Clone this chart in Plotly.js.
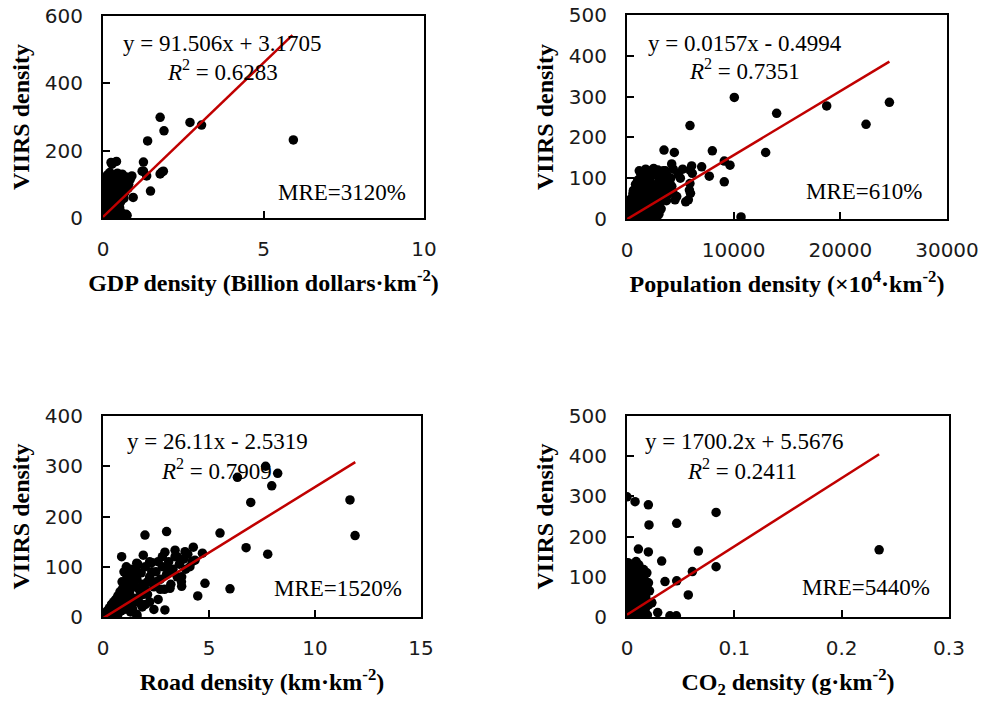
<!DOCTYPE html>
<html>
<head>
<meta charset="utf-8">
<script src="https://cdn.plot.ly/plotly-3.0.1.min.js"></script>
<style>html,body{margin:0;padding:0;background:#fff;}#chart{width:990px;height:706px;}</style>
</head>
<body>
<div id="chart"></div>
<script>
// ---------- data ----------
const gdpPoints = [
 [0.02,3],[0.04,12],[0.03,25],[0.05,40],[0.04,58],[0.06,72],[0.05,88],[0.07,100],[0.06,112],[0.08,120],
 [0.1,6],[0.12,18],[0.11,33],[0.13,47],[0.12,63],[0.14,79],[0.13,93],[0.15,106],[0.16,118],[0.14,128],
 [0.2,9],[0.22,22],[0.19,38],[0.21,52],[0.23,68],[0.2,84],[0.24,97],[0.22,110],[0.25,122],[0.21,135],
 [0.3,14],[0.32,28],[0.29,44],[0.31,60],[0.33,74],[0.3,88],[0.34,102],[0.32,115],[0.35,128],[0.28,160],
 [0.4,20],[0.42,36],[0.39,55],[0.41,70],[0.44,84],[0.4,98],[0.43,110],[0.38,124],[0.45,133],[0.42,168],
 [0.5,12],[0.52,30],[0.55,48],[0.5,66],[0.53,80],[0.56,95],[0.51,108],[0.57,120],[0.6,130],
 [0.62,10],[0.65,58],[0.68,76],[0.64,92],[0.7,110],[0.72,122],[0.6,14],[0.75,8],[0.8,100],[0.85,115],
 [0.9,125],[0.78,88],[0.55,5],[0.3,1],[0.1,0.5],
 [0.94,61],[0.72,11],[1.48,80],[1.26,139],[1.22,139],[1.36,125],[1.83,136],[1.78,131],[1.88,139],
 [1.26,166],[1.39,229],[1.78,299],[1.9,259],[2.71,284],[3.07,276],[5.93,232],[0.25,165]
];
const popPoints = [
 [100,2],[200,10],[150,25],[300,40],[250,8],[500,5],[600,20],[450,35],[700,50],[550,62],
 [900,15],[1000,30],[800,45],[1100,60],[950,75],[1200,90],[1300,105],[1150,118],
 [1500,10],[1600,28],[1400,45],[1700,58],[1550,72],[1800,85],[1650,98],[1900,110],[1750,122],
 [2000,20],[2100,38],[2200,52],[2050,66],[2300,80],[2150,95],[2400,108],[2250,118],[2500,124],
 [2600,30],[2700,45],[2800,60],[2650,75],[2900,88],[3000,100],[2750,112],
 [3100,40],[3200,55],[3300,70],[3400,85],[3500,95],[3300,110],[3600,118],
 [3800,60],[3900,75],[4000,90],[3700,45],[4200,80],[4100,100],[4300,65],
 [2800,5],[1800,3],[3000,12],[2400,8],[1200,6],[400,50],[200,45],[0,40],[100,30],
 [600,70],[800,85],[1000,95],[1300,80],[1500,65],[1000,50],[1800,40],[2200,30],[2600,15],[3200,25],
 [3500,55],[2500,50],[2000,75],[1400,20],[700,30],[3800,105],[2900,120],[1500,110],[3100,80],
 [3400,118],[4190,135],[4340,122],[5220,122],[6060,130],[5906,120],[6120,112],[5900,87],[5850,71],
 [5950,63],[5750,47],[4660,55],[4500,47],[4438,163],[3470,169],[5906,229],[7000,128],[7716,105],
 [8000,167],[9120,142],[9656,132],[9120,91],[10060,298],[10690,5],[2750,6],[13000,163],[14030,259],
 [18720,277],[22410,232],[24600,286],[5500,42],[5000,100],[4800,110]
];
const roadPoints = [
 [0.05,2],[0.1,8],[0.15,3],[0.2,12],[0.25,5],[0.3,18],[0.35,10],[0.4,25],[0.45,15],[0.5,30],
 [0.55,8],[0.6,35],[0.65,20],[0.7,42],[0.75,28],[0.8,50],[0.85,12],[0.9,55],[0.95,35],[1.0,62],
 [1.05,45],[1.1,70],[1.15,25],[1.2,78],[1.25,50],[1.3,58],[1.35,85],[1.4,38],[1.45,68],[1.5,95],
 [1.55,30],[1.6,75],[1.65,105],[1.7,55],[1.8,88],[1.85,20],[1.9,65],[2.0,100],[2.1,45],[2.2,80],
 [2.3,108],[2.4,60],[2.5,90],[2.6,35],[2.7,75],[2.8,100],[2.9,55],[3.0,85],[3.1,110],[3.2,65],
 [3.3,95],[3.4,120],[3.5,80],[3.6,105],[3.7,70],[3.8,115],[3.9,95],[4.0,125],[4.1,100],[4.2,110],
 [0.6,10],[1.0,15],[1.3,10],[1.6,5],[0.9,25],[1.2,40],[0.4,5],[0.7,15],[2.0,25],[2.4,15],
 [1.1,100],[1.5,60],[2.2,30],
 [0.5,20],[0.8,30],[1.0,40],[1.2,60],[1.4,75],[1.6,90],[1.8,60],[1.9,45],[2.1,70],[2.3,90],
 [2.5,70],[2.7,55],[1.3,30],[1.7,40],[0.9,70],[1.1,85],[1.5,80],[2.0,55],[2.6,110],[3.0,100],
 [1.4,15],[1.8,25],[0.3,3],[0.7,5],[1.2,20],[2.2,110],[2.8,120],[3.2,90],[3.5,120],[1.3,95],
 [0.88,120],[1.9,123],[1.98,163],[3.0,170],[2.92,129],[3.4,133],[3.87,130],[4.26,139],[4.69,127],
 [4.34,113],[3.71,80],[3.71,61],[3.16,57],[2.92,14],[1.6,1],[0.99,90],[1.59,107],[4.81,67],
 [4.47,42],[5.52,167],[5.99,56],[6.75,138],[7.77,125],[6.34,278],[7.67,300],[8.24,286],
 [7.96,261],[6.97,228],[11.65,233],[11.89,162]
];
const co2Points = [
 [0,5],[0.001,20],[0.0005,40],[0.002,60],[0.001,80],[0.0015,100],[0.002,120],[0.001,135],
 [0.003,10],[0.004,30],[0.0035,50],[0.004,70],[0.003,90],[0.0045,110],[0.004,128],
 [0.006,5],[0.006,22],[0.0065,45],[0.006,65],[0.007,85],[0.0055,105],[0.0065,125],
 [0.008,12],[0.009,35],[0.0085,55],[0.009,75],[0.008,95],[0.0095,115],[0.0085,138],
 [0.011,8],[0.012,28],[0.0115,48],[0.012,68],[0.011,88],[0.0125,108],[0.011,130],
 [0.014,15],[0.015,40],[0.0145,60],[0.015,80],[0.014,100],[0.0155,118],
 [0.017,20],[0.0175,50],[0.018,72],[0.017,90],[0.0185,110],[0.02,30],[0.021,65],[0.02,85],
 [0.019,5],[0.023,35],[0.016,3],[0,25],[0,60],[0,100],[0,125],
 [0,299],[0.0075,287],[0.0199,279],[0.0205,229],[0.0463,233],[0.083,260],[0.2349,167],
 [0.0106,169],[0.0199,162],[0.0665,164],[0.0323,139],[0.083,125],[0.0609,113],[0.0463,90],
 [0.0354,88],[0.0571,55],[0.023,36],[0.0286,11],[0.040,3],[0.046,3]
];

// fitted trend lines: [slope, intercept, x end]
const fits = [[91.506,3.1705,5.9],[0.0157,-0.4994,24600],[26.11,-2.5319,11.9],[1700.2,5.5676,0.2349]];
const eqTexts = ['y = 91.506x + 3.1705','y = 0.0157x - 0.4994','y = 26.11x - 2.5319','y = 1700.2x + 5.5676'];
const r2Texts = ['0.6283','0.7351','0.7909','0.2411'];
const mreTexts = ['MRE=3120%','MRE=610%','MRE=1520%','MRE=5440%'];
const xTitles = ['GDP density (Billion dollars·km<sup>-2</sup>)','Population density (×10<sup>4</sup>·km<sup>-2</sup>)',
                 'Road density (km·km<sup>-2</sup>)','CO<sub>2</sub> density (g·km<sup>-2</sup>)'];
const yTitle = 'VIIRS density';
const xRanges = [[0,10],[0,30000],[0,15],[0,0.3]];
const xDticks = [5,10000,5,0.1];
const xFormats = ['', 'd', '', ''];
const yRanges = [[0,600],[0,500],[0,400],[0,500]];
const yDticks = [200,100,100,100];

// ---------- layout geometry ----------
const W = 990, H = 706;
const boxes = [ // [left, right, top, bottom] in px
 [103,424,16,218],[627,947,15,219],[103,421,416,617],[627,949,416,617]
];
const eqPos = [[222,43],[745,43],[217,442],[744,442]];
const r2Pos = [[222,71],[744,70],[216,469],[742,469]];
const mrePos = [[408,192],[924,191],[404,588],[932,587]];

const allPts = [gdpPoints, popPoints, roadPoints, co2Points];
const traces = [];
const layout = {
  width: W, height: H, margin:{l:0,r:0,t:0,b:0},
  paper_bgcolor:'#fff', plot_bgcolor:'#fff', showlegend:false,
  annotations: []
};
const serif = 'Liberation Serif, Times New Roman, serif';
for (let i=0;i<4;i++){
  const sfx = i===0 ? '' : String(i+1);
  const xa = 'x'+sfx, ya = 'y'+sfx;
  const pts = allPts[i];
  traces.push({type:'scatter', mode:'markers', xaxis:xa, yaxis:ya,
    x: pts.map(p=>p[0]), y: pts.map(p=>p[1]), cliponaxis:true,
    marker:{color:'#000', size:9.5}, hoverinfo:'x+y'});
  const f = fits[i];
  traces.push({type:'scatter', mode:'lines', xaxis:xa, yaxis:ya,
    x:[0, f[2]], y:[f[1], f[0]*f[2]+f[1]], line:{color:'#C00000', width:2.5}});
  const b = boxes[i];
  const axCommon = {showline:true, mirror:true, linecolor:'#000', linewidth:2,
    ticks:'inside', ticklen:7, tickwidth:2, tickcolor:'#000', showgrid:false, zeroline:false,
    exponentformat:'none',
    tickfont:{family:'DejaVu Sans', size:20, color:'#1a1a1a'}, automargin:false, fixedrange:true};
  layout['xaxis'+sfx] = Object.assign({}, axCommon, {
    domain:[b[0]/W, b[1]/W], anchor:ya, range:xRanges[i], dtick:xDticks[i], tick0:0,
    tickformat:xFormats[i], ticklabelstandoff:12,
    title:{text:xTitles[i], font:{family:serif, size:24, color:'#000', weight:'bold'}, standoff:14}
  });
  layout['yaxis'+sfx] = Object.assign({}, axCommon, {
    domain:[1-b[3]/H, 1-b[2]/H], anchor:xa, range:yRanges[i], dtick:yDticks[i], tick0:0,
    ticklabelstandoff:14,
    title:{text:yTitle, font:{family:serif, size:24, color:'#000', weight:'bold'}, standoff:8}
  });
  const tf = {family:serif, size:23, color:'#000'};
  layout.annotations.push({xref:'paper', yref:'paper', x:eqPos[i][0]/W, y:1-eqPos[i][1]/H,
    text:eqTexts[i], showarrow:false, xanchor:'center', yanchor:'middle', font:tf});
  layout.annotations.push({xref:'paper', yref:'paper', x:r2Pos[i][0]/W, y:1-r2Pos[i][1]/H,
    text:'<i>R</i><sup>2</sup> = '+r2Texts[i], showarrow:false, xanchor:'center', yanchor:'middle', font:tf});
  layout.annotations.push({xref:'paper', yref:'paper', x:mrePos[i][0]/W, y:1-mrePos[i][1]/H,
    text:mreTexts[i], showarrow:false, xanchor:'right', yanchor:'middle', font:tf});
}
Plotly.newPlot('chart', traces, layout, {displayModeBar:false, staticPlot:true});
</script>
</body>
</html>
